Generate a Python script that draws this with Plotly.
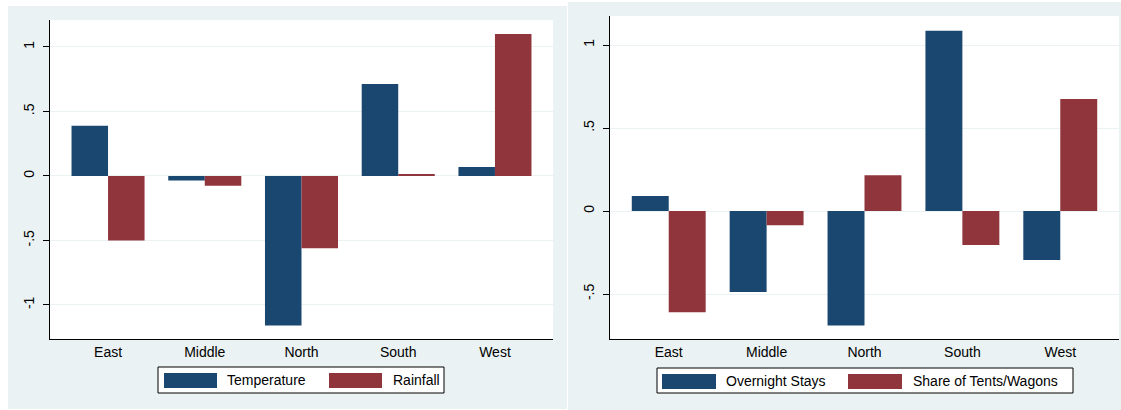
import plotly.graph_objects as go

W, H = 1121, 410

regions = ["East", "Middle", "North", "South", "West"]
temperature = [0.39, -0.035, -1.16, 0.713, 0.07]
rainfall = [-0.50, -0.075, -0.56, 0.015, 1.10]
overnight_stays = [0.09, -0.488, -0.69, 1.086, -0.295]
share_tents = [-0.61, -0.085, 0.215, -0.205, 0.675]

left_names = ["Temperature", "Rainfall"]
right_names = ["Overnight Stays", "Share of Tents/Wagons"]

ytick_vals_left = [-1, -0.5, 0, 0.5, 1]
ytick_text_left = ["-1", "-.5", "0", ".5", "1"]
ytick_vals_right = [-0.5, 0, 0.5, 1]
ytick_text_right = ["-.5", "0", ".5", "1"]

NAVY = "#1a476f"
MAROON = "#90353b"
BG = "#eaf2f3"
FONT = "Liberation Sans, Arial, sans-serif"

def px(x):
    return x / W

def py(y):
    return 1 - y / H

fig = go.Figure()
fig.add_trace(go.Bar(x=regions, y=temperature, name=left_names[0], marker=dict(color=NAVY, line=dict(width=0)), xaxis="x", yaxis="y"))
fig.add_trace(go.Bar(x=regions, y=rainfall, name=left_names[1], marker=dict(color=MAROON, line=dict(width=0)), xaxis="x", yaxis="y"))
fig.add_trace(go.Bar(x=regions, y=overnight_stays, name=right_names[0], marker=dict(color=NAVY, line=dict(width=0)), xaxis="x2", yaxis="y2"))
fig.add_trace(go.Bar(x=regions, y=share_tents, name=right_names[1], marker=dict(color=MAROON, line=dict(width=0)), xaxis="x2", yaxis="y2"))

shapes = []
# panel backgrounds
shapes.append(dict(type="rect", xref="paper", yref="paper", x0=px(8), x1=px(567), y0=py(409), y1=py(6), fillcolor=BG, line=dict(width=0), layer="below"))
shapes.append(dict(type="rect", xref="paper", yref="paper", x0=px(568), x1=px(1121), y0=py(410), y1=py(2), fillcolor=BG, line=dict(width=0), layer="below"))
# plot areas
shapes.append(dict(type="rect", xref="paper", yref="paper", x0=px(50), x1=px(553), y0=py(339), y1=py(20), fillcolor="white", line=dict(width=0), layer="below"))
shapes.append(dict(type="rect", xref="paper", yref="paper", x0=px(610), x1=px(1119), y0=py(339), y1=py(16), fillcolor="white", line=dict(width=0), layer="below"))

annotations = []

def add_legend(box, items):
    x0, x1, y0, y1 = box
    shapes.append(dict(type="rect", xref="paper", yref="paper", x0=px(x0), x1=px(x1), y0=py(y1), y1=py(y0), fillcolor="white", line=dict(color="black", width=1)))
    for (sx0, sx1, tx, color, label) in items:
        shapes.append(dict(type="rect", xref="paper", yref="paper", x0=px(sx0), x1=px(sx1), y0=py(y0 + 21), y1=py(y0 + 6), fillcolor=color, line=dict(width=0)))
        annotations.append(dict(xref="paper", yref="paper", x=px(tx), y=py((y0 + y1) / 2), xanchor="left", yanchor="middle", text=label, showarrow=False, font=dict(family=FONT, size=14, color="black")))

add_legend((158, 444, 367, 393), [(164, 217, 225, NAVY, left_names[0]), (329, 382, 391, MAROON, left_names[1])])
add_legend((657, 1073, 368, 393), [(662, 716, 724, NAVY, right_names[0]), (848, 902, 911, MAROON, right_names[1])])

xcommon = dict(showline=True, linecolor="black", linewidth=1, ticks="", showgrid=False, zeroline=False, range=[-0.6, 4.6], tickfont=dict(family=FONT, size=14, color="black"), mirror=False)
ycommon = dict(showline=True, linecolor="black", linewidth=1, ticks="outside", ticklen=6, tickcolor="black", showgrid=True, gridcolor=BG, gridwidth=1, zeroline=False, tickangle=-90, ticklabelstandoff=3, tickfont=dict(family=FONT, size=14, color="black"))

fig.update_layout(
    width=W, height=H, margin=dict(l=0, r=0, t=0, b=0),
    paper_bgcolor="white", plot_bgcolor="rgba(0,0,0,0)",
    barmode="group", bargap=0.245, bargroupgap=0,
    showlegend=False,
    xaxis=dict(domain=[px(50), px(553)], anchor="y", **xcommon),
    yaxis=dict(domain=[py(339), py(20)], anchor="x", range=[-1.264, 1.209], tickvals=ytick_vals_left, ticktext=ytick_text_left, **ycommon),
    xaxis2=dict(domain=[px(610), px(1119)], anchor="y2", **xcommon),
    yaxis2=dict(domain=[py(339), py(16)], anchor="x2", range=[-0.771, 1.175], tickvals=ytick_vals_right, ticktext=ytick_text_right, **ycommon),
    shapes=shapes, annotations=annotations,
    font=dict(family=FONT, size=14, color="black"),
)

fig.write_html("out.html")
